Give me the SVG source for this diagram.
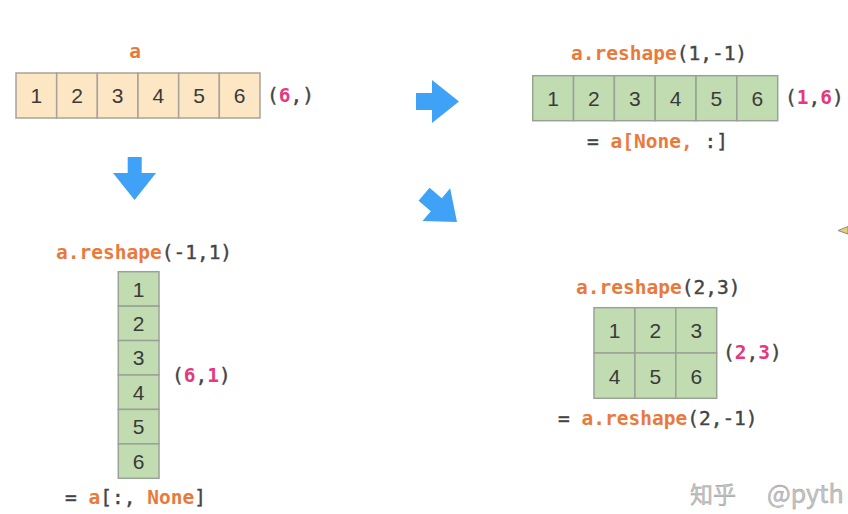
<svg xmlns="http://www.w3.org/2000/svg" width="848" height="514" viewBox="0 0 848 514">
<style>
.peach{fill:#FDE6C4;stroke:#A8A29A;stroke-width:1.5}
.green{fill:#C2DCB2;stroke:#9AA296;stroke-width:1.5}
.num{font-family:"Liberation Sans",Arial,sans-serif;font-size:21px;fill:#3a3a3a;text-anchor:middle}
.code{font-family:"DejaVu Sans Mono","Liberation Mono",monospace;font-size:19.5px;fill:#444;stroke:#444;stroke-width:0.4}
.or{fill:#EA7A3C;stroke:none;font-weight:bold}
.pk{fill:#E23A7C;stroke:none;font-weight:bold}
.arrow{fill:#3FA2F6}
.wm{font-family:"Noto Sans CJK SC","Noto Sans",sans-serif;fill:#c4c4c4;stroke:#9a9a9a;stroke-width:0.4}
</style>
<rect width="848" height="514" fill="#ffffff"/>

<g id="node-a">
<text class="code" x="135" y="58" text-anchor="middle"><tspan class="or">a</tspan></text>
<rect class="peach" x="16" y="73" width="40.67" height="45"/>
<rect class="peach" x="56.67" y="73" width="40.67" height="45"/>
<rect class="peach" x="97.33" y="73" width="40.67" height="45"/>
<rect class="peach" x="138" y="73" width="40.67" height="45"/>
<rect class="peach" x="178.67" y="73" width="40.67" height="45"/>
<rect class="peach" x="219.33" y="73" width="40.67" height="45"/>
<text class="num" x="36.3" y="103">1</text>
<text class="num" x="77" y="103">2</text>
<text class="num" x="117.7" y="103">3</text>
<text class="num" x="158.3" y="103">4</text>
<text class="num" x="199" y="103">5</text>
<text class="num" x="239.7" y="103">6</text>
<text class="code" x="267" y="102">(<tspan class="pk">6</tspan>,)</text>
</g>

<g id="node-row">
<text class="code" x="571" y="60"><tspan class="or">a.reshape</tspan>(1,-1)</text>
<rect class="green" x="532.7" y="75.7" width="40.83" height="45"/>
<rect class="green" x="573.53" y="75.7" width="40.83" height="45"/>
<rect class="green" x="614.37" y="75.7" width="40.83" height="45"/>
<rect class="green" x="655.2" y="75.7" width="40.83" height="45"/>
<rect class="green" x="696.03" y="75.7" width="40.83" height="45"/>
<rect class="green" x="736.87" y="75.7" width="40.83" height="45"/>
<text class="num" x="553.1" y="106">1</text>
<text class="num" x="593.9" y="106">2</text>
<text class="num" x="634.8" y="106">3</text>
<text class="num" x="675.6" y="106">4</text>
<text class="num" x="716.4" y="106">5</text>
<text class="num" x="757.3" y="106">6</text>
<text class="code" x="785" y="104">(<tspan class="pk">1</tspan>,<tspan class="pk">6</tspan>)</text>
<text class="code" x="587" y="148">= <tspan class="or">a[None,</tspan> :]</text>
</g>

<g id="node-col">
<text class="code" x="56" y="259"><tspan class="or">a.reshape</tspan>(-1,1)</text>
<rect class="green" x="118.3" y="271.7" width="40.7" height="34.43"/>
<rect class="green" x="118.3" y="306.13" width="40.7" height="34.43"/>
<rect class="green" x="118.3" y="340.57" width="40.7" height="34.43"/>
<rect class="green" x="118.3" y="375" width="40.7" height="34.43"/>
<rect class="green" x="118.3" y="409.43" width="40.7" height="34.43"/>
<rect class="green" x="118.3" y="443.87" width="40.7" height="34.43"/>
<text class="num" x="138.7" y="296.5">1</text>
<text class="num" x="138.7" y="331">2</text>
<text class="num" x="138.7" y="365.4">3</text>
<text class="num" x="138.7" y="399.8">4</text>
<text class="num" x="138.7" y="434.2">5</text>
<text class="num" x="138.7" y="468.6">6</text>
<text class="code" x="172" y="382">(<tspan class="pk">6</tspan>,<tspan class="pk">1</tspan>)</text>
<text class="code" x="65" y="504">= <tspan class="or">a</tspan>[:, <tspan class="or">None</tspan>]</text>
</g>

<g id="node-grid">
<text class="code" x="576" y="294"><tspan class="or">a.reshape</tspan>(2,3)</text>
<rect class="green" x="594" y="307.7" width="40.9" height="45.3"/>
<rect class="green" x="634.9" y="307.7" width="40.9" height="45.3"/>
<rect class="green" x="675.8" y="307.7" width="40.9" height="45.3"/>
<rect class="green" x="594" y="353" width="40.9" height="45.3"/>
<rect class="green" x="634.9" y="353" width="40.9" height="45.3"/>
<rect class="green" x="675.8" y="353" width="40.9" height="45.3"/>
<text class="num" x="614.5" y="338">1</text>
<text class="num" x="655.4" y="338">2</text>
<text class="num" x="696.3" y="338">3</text>
<text class="num" x="614.5" y="383.5">4</text>
<text class="num" x="655.4" y="383.5">5</text>
<text class="num" x="696.3" y="383.5">6</text>
<text class="code" x="723" y="359">(<tspan class="pk">2</tspan>,<tspan class="pk">3</tspan>)</text>
<text class="code" x="558" y="425">= <tspan class="or">a.reshape</tspan>(2,-1)</text>
</g>

<g id="connectors">
<polygon class="arrow" points="416,93 432,93 432,80 459,101.5 432,123 432,110 416,110"/>
<polygon class="arrow" points="127.7,157 141.7,157 141.7,173 156,173 134.6,200 113,173 127.7,173"/>
<polygon class="arrow" transform="translate(457,222) rotate(40)" points="0,0 -27,21.5 -27,8.5 -43,8.5 -43,-8.5 -27,-8.5 -27,-21.5"/>
</g>

<polygon points="838,230.5 848,226.5 848,234" fill="#E6CF74" stroke="#8a8a8a" stroke-width="1"/>

<text class="wm" x="690" y="503" font-size="23">知乎</text>
<text class="wm" x="767" y="503" font-size="25">@pyth</text>
</svg>
